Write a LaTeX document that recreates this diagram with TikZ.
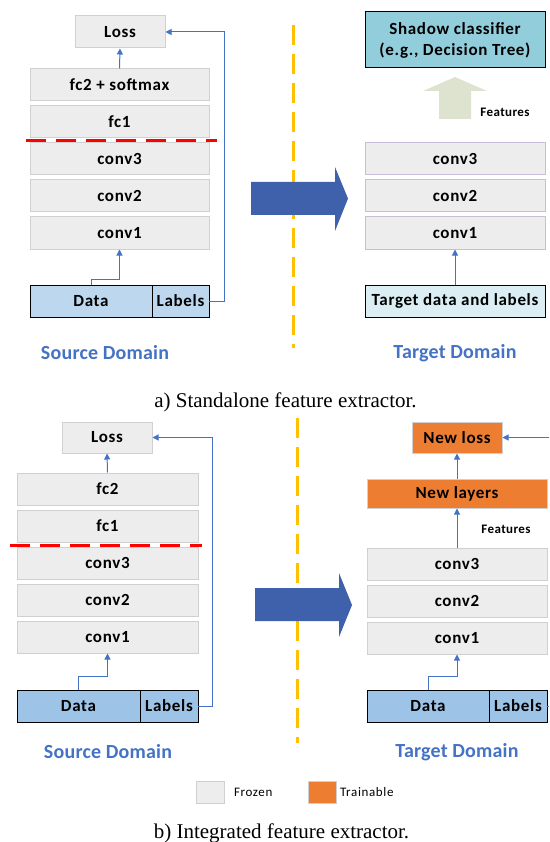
\documentclass[tikz,border=0pt]{standalone}
\usepackage{fontspec}
\setmainfont{Carlito}
\newfontfamily\capfont{Liberation Serif}
\usetikzlibrary{arrows.meta, positioning, calc}

\definecolor{frozen}{HTML}{EDEDED}
\definecolor{frozenedge}{HTML}{D0D0D0}
\definecolor{convedge}{HTML}{C8BED8}
\definecolor{datablue}{HTML}{BDD7EE}
\definecolor{datablueb}{HTML}{9DC3E6}
\definecolor{shadow}{HTML}{92CDDC}
\definecolor{target}{HTML}{DAEEF3}
\definecolor{trainable}{HTML}{ED7D31}
\definecolor{featgreen}{HTML}{DDE3CE}
\definecolor{connblue}{HTML}{4472C4}
\definecolor{bigblue}{HTML}{3F60AA}
\definecolor{divider}{HTML}{FFC000}

\begin{document}
\begin{tikzpicture}[x=1pt, y=-1pt,
    box/.style={draw=frozenedge, fill=frozen, line width=1pt, inner sep=0pt, minimum height=32pt, font=\fontsize{17}{21}\selectfont\bfseries\addfontfeatures{LetterSpace=4}},
    layerbox/.style={box, minimum width=180pt},
    datbox/.style={box, draw=black, outer sep=0pt},
    conn/.style={draw=connblue, line width=1pt, -{Triangle[length=6pt, width=6pt]}},
    domtext/.style={font=\fontsize{20}{24}\selectfont\bfseries\addfontfeatures{LetterSpace=1}, text=connblue},
    featnote/.style={font=\fontsize{13}{15}\selectfont\bfseries\addfontfeatures{LetterSpace=3}},
    keytext/.style={font=\fontsize{13}{15}\selectfont\addfontfeatures{LetterSpace=5}},
    cutline/.style={red, line width=3pt, dash pattern=on 20pt off 10pt},
    divline/.style={divider, line width=3pt, dash pattern=on 20pt off 9pt},
    captext/.style={font=\capfont\fontsize{21}{25}\selectfont, anchor=base}
]
    \useasboundingbox (0,0) rectangle (549,842);

    % a) source side
    \node[box, minimum width=90pt] (lossA) at (120,32) {Loss};
    \node[layerbox, minimum width=179pt] (fc2A) at (119.5,85) {fc2 + softmax};
    \node[layerbox, minimum width=179pt, below=4pt of fc2A] (fc1A) {fc1};
    \node[layerbox, minimum width=179pt, below=4pt of fc1A] (conv3A) {conv3};
    \node[layerbox, minimum width=179pt, below=4pt of conv3A] (conv2A) {conv2};
    \node[layerbox, minimum width=179pt, below=4pt of conv2A] (conv1A) {conv1};
    \draw[cutline] (26,140.5) -- (217,140.5);
    \node[datbox, fill=datablue, minimum width=122pt] (dataA) at (91,301) {Data};
    \node[datbox, fill=datablue, minimum width=57pt, right=0pt of dataA] (labelsA) {Labels};
    \node[domtext] (srcA) at (105,353) {Source Domain};

    \draw[conn] (fc2A.north) -- (lossA.south);
    \draw[conn] (dataA.north) -- ++(0,-6) -| (conv1A.south);
    \draw[conn] (labelsA.east) -- ++(15,0) |- (lossA.east);

    \draw[divline] (293,25) -- (293,348);
    \fill[bigblue] (251,182) -- (335,182) -- (335,167) -- (348,198.5) -- (335,231) -- (335,215) -- (251,215) -- cycle;

    % a) target side
    \node[box, draw=black, fill=shadow, minimum width=180pt, minimum height=56pt, align=center] (shadowA) at (455,40) {Shadow classifier\\(e.g., Decision Tree)};
    \fill[featgreen] (439,119) -- (439,91) -- (423,91) -- (455,77) -- (487,91) -- (471,91) -- (471,119) -- cycle;
    \node[featnote] (featA) at (505,112) {Features};
    \node[layerbox, draw=convedge] (conv3T) at (455,159) {conv3};
    \node[layerbox, draw=convedge, below=4pt of conv3T] (conv2T) {conv2};
    \node[layerbox, draw=convedge, below=4pt of conv2T] (conv1T) {conv1};
    \node[datbox, fill=target, minimum width=180pt] (tdataA) at (455,301) {Target data and labels};
    \node[domtext] (tgtA) at (455,353) {Target Domain};
    \draw[conn] (tdataA.north) -- (conv1T.south);

    \node[captext] (capA) at (285.5,407) {a) Standalone feature extractor.};

    % b) source side
    \node[box, minimum width=90pt, minimum height=31pt] (lossB) at (107,437.5) {Loss};
    \node[layerbox, minimum width=181pt] (fc2B) at (107.5,489) {fc2};
    \node[layerbox, minimum width=181pt, below=4pt of fc2B] (fc1B) {fc1};
    \node[layerbox, minimum width=181pt, below=4pt of fc1B] (conv3B) {conv3};
    \node[layerbox, minimum width=181pt, below=4pt of conv3B] (conv2B) {conv2};
    \node[layerbox, minimum width=181pt, below=4pt of conv2B] (conv1B) {conv1};
    \draw[cutline] (10,545.5) -- (202,545.5);
    \node[datbox, fill=datablueb, minimum width=123pt] (dataB) at (78.5,706) {Data};
    \node[datbox, fill=datablueb, minimum width=58pt, right=0pt of dataB] (labelsB) {Labels};
    \node[domtext] (srcB) at (108,752) {Source Domain};

    \draw[conn] (fc2B.north) -- (lossB.south);
    \draw[conn] (dataB.north) -- ++(0,-14) -| (conv1B.south);
    \draw[conn] (labelsB.east) -- ++(14,0) |- (lossB.east);

    \draw[divline] (297,418) -- (297,743);
    \fill[bigblue] (255,588) -- (339,588) -- (339,573) -- (352,605) -- (339,637) -- (339,621) -- (255,621) -- cycle;

    % b) target side
    \node[box, fill=trainable, minimum width=90pt, minimum height=31pt] (newloss) at (457,437.5) {New loss};
    \node[box, fill=trainable, minimum width=180pt, minimum height=29pt] (newlayers) at (457,493.5) {New layers};
    \node[featnote] (featB) at (506,529) {Features};
    \node[layerbox] (conv3R) at (457,564) {conv3};
    \node[layerbox, below=4pt of conv3R] (conv2R) {conv2};
    \node[layerbox, below=4pt of conv2R] (conv1R) {conv1};
    \node[datbox, fill=datablueb, minimum width=122pt] (dataR) at (428,706) {Data};
    \node[datbox, fill=datablueb, minimum width=58pt, right=0pt of dataR] (labelsR) {Labels};
    \node[domtext] (tgtB) at (457,752) {Target Domain};
    \coordinate (lossin) at (549,437.5);
    \coordinate (labout) at (549,706);

    \draw[conn] (newlayers.north) -- (newloss.south);
    \draw[conn] (conv3R.north) -- (newlayers.south);
    \draw[conn] (dataR.north) -- ++(0,-14) -| (conv1R.south);
    \draw[conn] (lossin) -- (newloss.east);
    \draw[connblue, line width=1pt] (labelsR.east) -- (labout);

    % legend
    \node[box, minimum width=28pt, minimum height=22pt] (frozenkey) at (210,792) {};
    \node[keytext, right=6pt of frozenkey] (frozentxt) {Frozen};
    \node[box, fill=trainable, minimum width=28pt, minimum height=22pt] (trainkey) at (322,792) {};
    \node[keytext, right=0pt of trainkey] (traintxt) {Trainable};

    \node[captext] (capB) at (281.5,838) {b) Integrated feature extractor.};
\end{tikzpicture}
\end{document}
